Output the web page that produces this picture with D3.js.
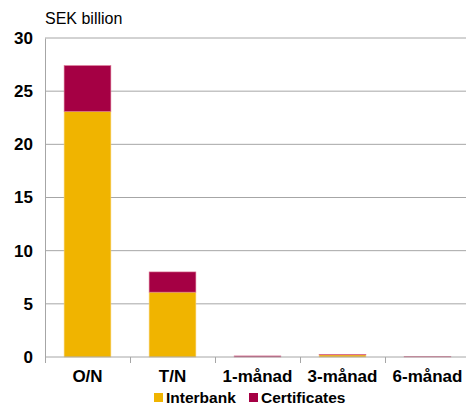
<!DOCTYPE html>
<html>

<head>
    <meta charset="UTF-8">
    <style>
        body { margin: 0; background: #fff; }
        text { font-family: "Liberation Sans", Arial, sans-serif; }
    </style>
</head>

<body>
    <script src="https://d3js.org/d3.v7.min.js"></script>
    <div id="chart"></div>
    <script>
        // data
        const categories = ["O/N", "T/N", "1-månad", "3-månad", "6-månad"];
        const interbank = [23.1, 6.1, 0.0, 0.2, 0.0];
        const certificates = [4.3, 1.9, 0.1, 0.05, 0.05];
        const yTicks = [0, 5, 10, 15, 20, 25, 30];
        const seriesNames = ["Interbank", "Certificates"];
        const colors = ["#f0b400", "#a50044"];

        const W = 466, H = 406;
        const margin = { top: 38, right: -4, bottom: 49, left: 45 },
            width = W - margin.left - margin.right,
            height = H - margin.top - margin.bottom;

        const root = d3.select("#chart")
            .append("svg")
            .attr("width", W)
            .attr("height", H);

        const svg = root.append("g")
            .attr("transform", `translate(${margin.left}, ${margin.top})`);

        // scales
        const x = d3.scaleBand()
            .domain(categories)
            .range([0, width])
            .paddingInner(0.45)
            .paddingOuter(0.225);

        const y = d3.scaleLinear()
            .domain([0, 30])
            .range([height, 0]);

        // gridlines
        svg.append("g")
            .selectAll("line")
            .data(yTicks.filter(d => d > 0))
            .enter()
            .append("line")
            .attr("x1", 0)
            .attr("x2", width)
            .attr("y1", d => y(d))
            .attr("y2", d => y(d))
            .attr("stroke", "#a6a6a6")
            .attr("stroke-width", 1);

        // y axis labels
        const yAxis = svg.append("g")
            .call(d3.axisLeft(y).tickValues(yTicks).tickSize(0).tickPadding(12));
        yAxis.select(".domain").attr("stroke", "#a6a6a6");
        yAxis.selectAll("text")
            .attr("font-size", 17)
            .attr("font-weight", "bold")
            .attr("fill", "#000")
            .style("font-family", "Liberation Sans, Arial, sans-serif");

        // stacked bars
        const rows = categories.map((c, i) => ({ cat: c, Interbank: interbank[i], Certificates: certificates[i] }));
        const stacked = d3.stack().keys(seriesNames)(rows);

        svg.append("g")
            .selectAll("g")
            .data(stacked)
            .enter()
            .append("g")
            .attr("fill", (d, i) => colors[i])
            .selectAll("rect")
            .data(d => d)
            .enter()
            .append("rect")
            .attr("x", d => x(d.data.cat))
            .attr("y", d => y(d[1]))
            .attr("width", x.bandwidth())
            .attr("height", d => Math.max(0, y(d[0]) - y(d[1])))
            .attr("stroke", (d, i, n) => d3.select(n[i].parentNode).datum().key === "Interbank" ? "#f7d070" : "#d9708f")
            .attr("stroke-width", 0.6);

        // x axis
        const step = x.step();
        const xAxis = svg.append("g")
            .attr("transform", `translate(0, ${height})`);
        xAxis.append("line")
            .attr("x1", 0).attr("x2", width)
            .attr("stroke", "#a6a6a6");
        xAxis.selectAll(".tk")
            .data(d3.range(0, categories.length + 1))
            .enter()
            .append("line")
            .attr("x1", i => Math.round(i * step) + 0.5)
            .attr("x2", i => Math.round(i * step) + 0.5)
            .attr("y1", 0)
            .attr("y2", 6)
            .attr("stroke", "#a6a6a6");
        xAxis.selectAll("text")
            .data(categories)
            .enter()
            .append("text")
            .attr("x", d => x(d) + x.bandwidth() / 2)
            .attr("y", 25)
            .attr("text-anchor", "middle")
            .attr("font-size", 17)
            .attr("font-weight", "bold")
            .text(d => d);

        // unit label
        root.append("text")
            .attr("x", 45)
            .attr("y", 24)
            .attr("font-size", 16)
            .text("SEK billion");

        // legend
        const legendX = [154, 249];
        const legend = root.append("g")
            .selectAll("g")
            .data(seriesNames)
            .enter()
            .append("g")
            .attr("transform", (d, i) => `translate(${legendX[i]}, 393)`);
        legend.append("rect")
            .attr("width", 9)
            .attr("height", 9)
            .attr("fill", (d, i) => colors[i]);
        legend.append("text")
            .attr("x", 12)
            .attr("y", 10)
            .attr("font-size", 15.5)
            .attr("font-weight", "bold")
            .text(d => d);
    </script>
</body>

</html>
